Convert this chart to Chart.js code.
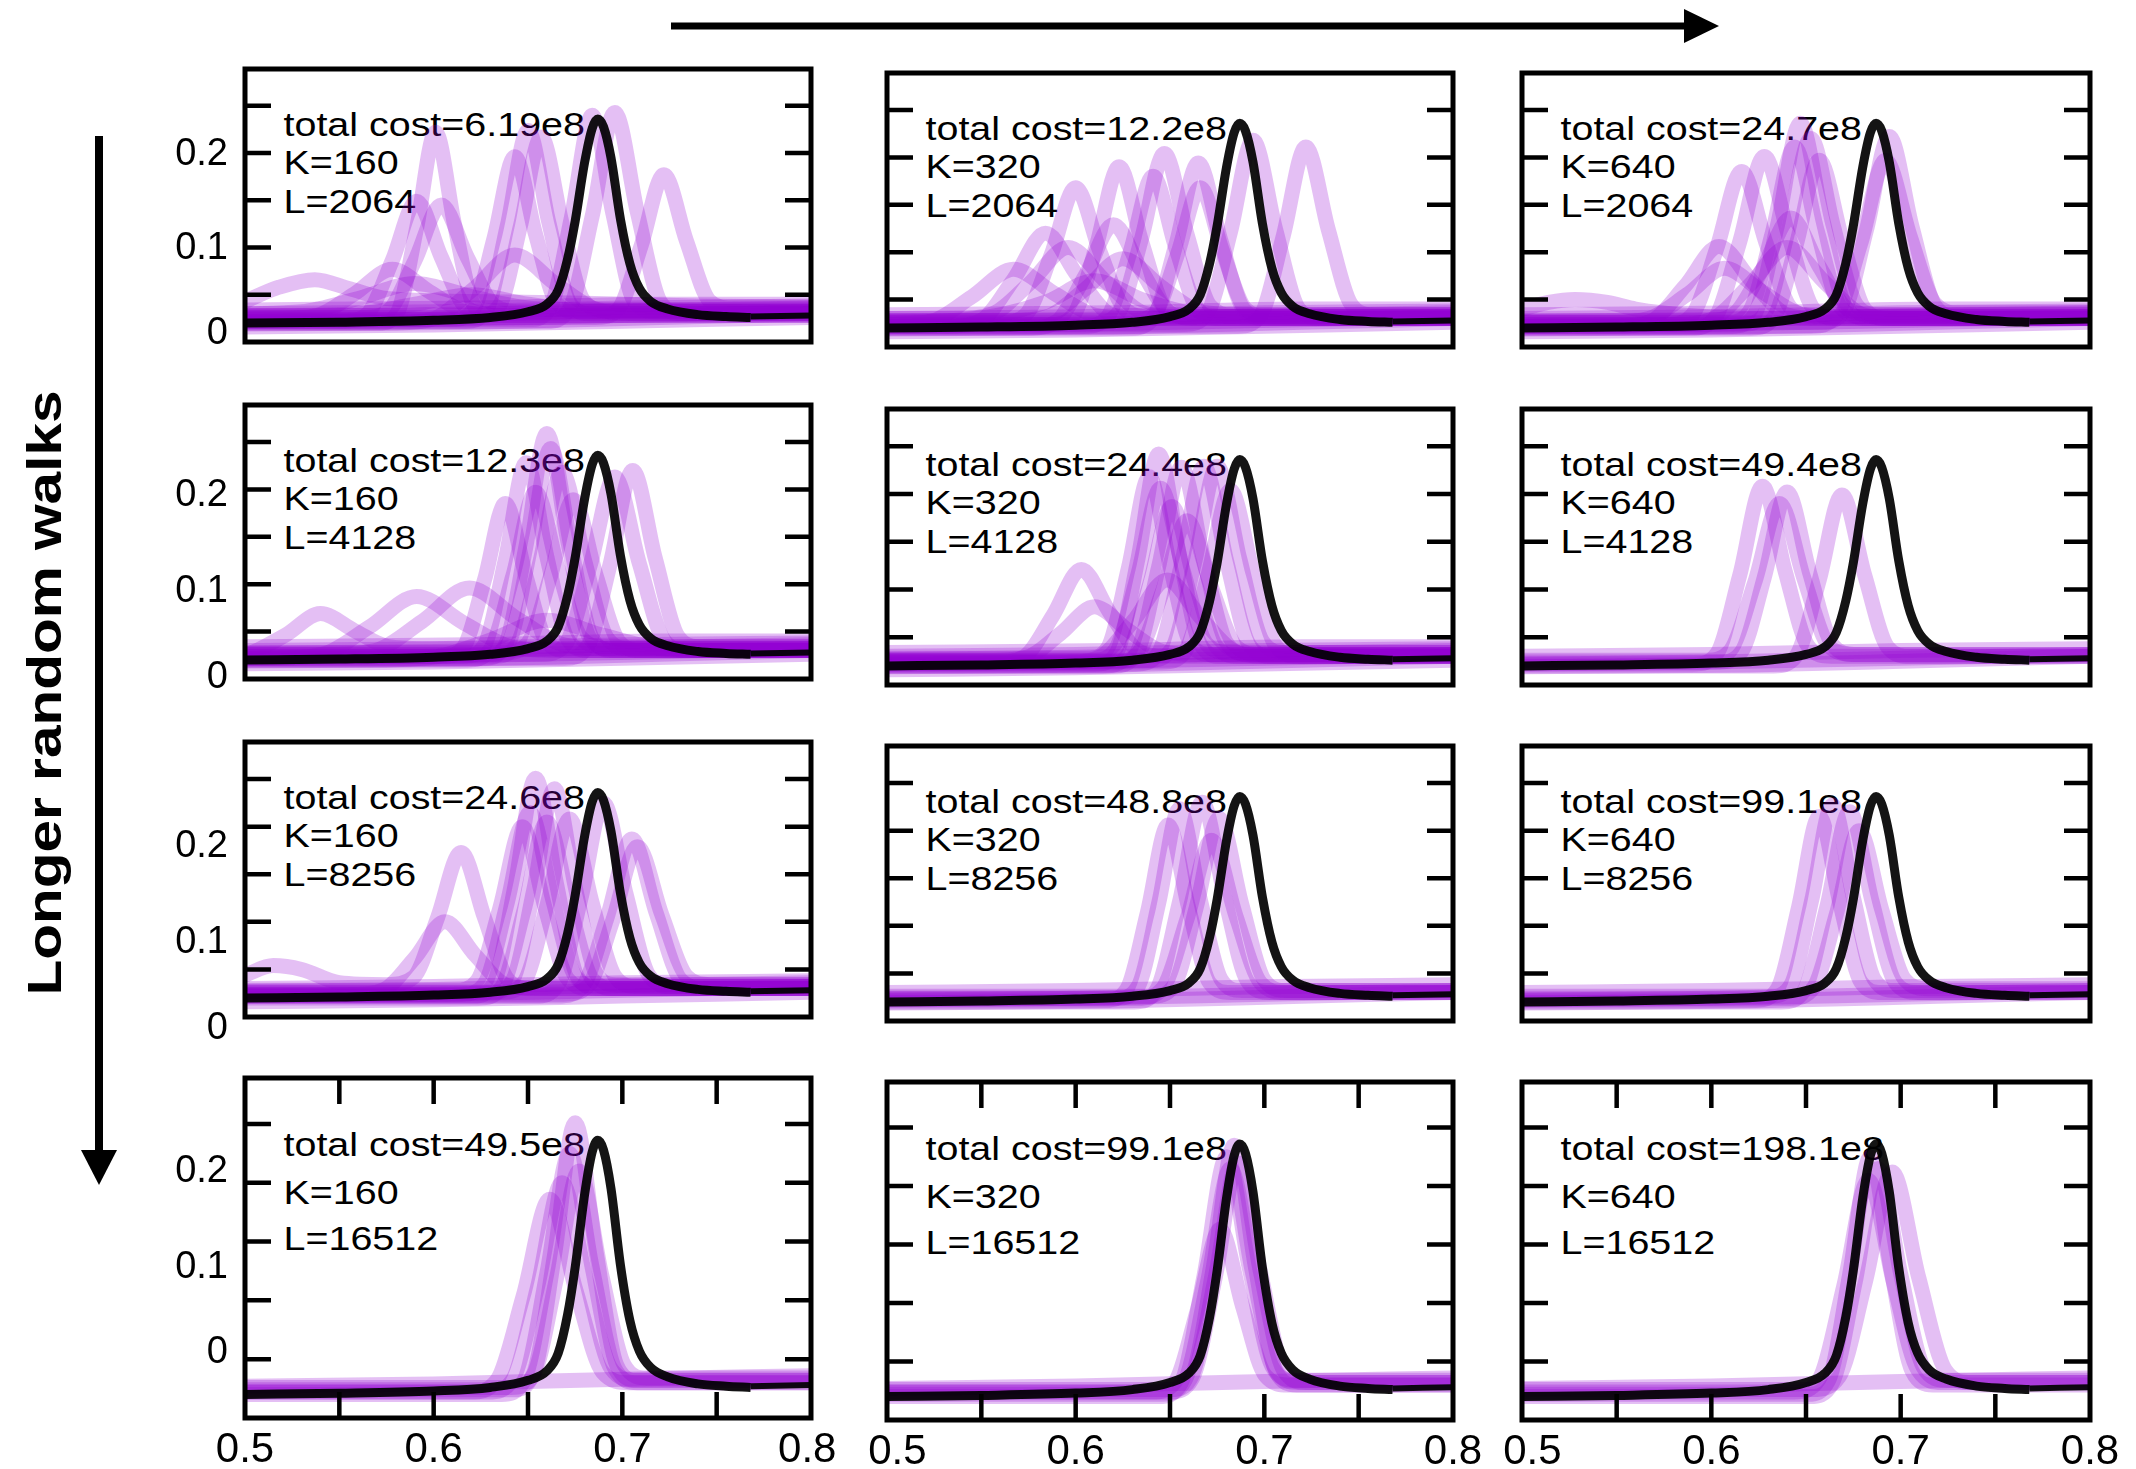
<!DOCTYPE html>
<html>
<head>
<meta charset="utf-8">
<script src="https://cdn.jsdelivr.net/npm/chart.js@4.4.1/dist/chart.umd.min.js"></script>
<style>
  body { margin: 0; background: #fff; }
  #page { position: relative; width: 2136px; height: 1469px; overflow: hidden; background: #fff; }
  #page canvas { position: absolute; }
  #overlay { position: absolute; left: 0; top: 0; }
</style>
</head>
<body>
<div id="page">
  <svg id="overlay" width="2136" height="1469" xmlns="http://www.w3.org/2000/svg"></svg>
</div>
<script>
// ---- data ----
const costs = [["6.19e8", "12.2e8", "24.7e8"], ["12.3e8", "24.4e8", "49.4e8"],
               ["24.6e8", "48.8e8", "99.1e8"], ["49.5e8", "99.1e8", "198.1e8"]];
const kValues = [160, 320, 640];
const lValues = [2064, 4128, 8256, 16512];

const yTickValues = [0.05, 0.1, 0.15, 0.2, 0.25];
const xTickValues = [0.55, 0.6, 0.65, 0.7, 0.75];
const yLabelText = ["0", "0.1", "0.2"];
const yLabelAt = [[0.0095, 0.0987, 0.199], [0.0017, 0.0922, 0.194], [-0.0116, 0.0786, 0.1788], [0.0553, 0.1275, 0.2094]];
const xLabelText = ["0.5", "0.6", "0.7", "0.8"];
const xLabelAt = [[0.5, 0.6, 0.7, 0.798], [0.5055, 0.6, 0.7, 0.8], [0.5055, 0.6, 0.7, 0.8]];

// reference spectrum (black)
const blackCurve = [[.5,.020],[.55,.021],[.60,.023],[.63,.026],[.65,.032],[.66,.040],[.666,.055],[.671,.088],[.675,.128],
  [.680,.190],[.684,.226],[.687,.236],[.690,.228],[.694,.195],[.699,.130],[.704,.083],[.709,.057],[.715,.043],
  [.724,.035],[.74,.029],[.755,.027],[.768,.026]];
const blackTail = [[.768,.027],[.8,.028]];

// nearly flat spectra that make up the dense band along the bottom
const flatA = [[.5,.030],[.6,.032],[.7,.036],[.8,.038]];
const flatB = [[.5,.016],[.6,.018],[.7,.022],[.8,.026]];
const flatC = [[.5,.034],[.62,.036],[.72,.040],[.8,.040]];
const flatD = [[.5,.022],[.6,.024],[.7,.028],[.8,.032]];
const flatE = [[.5,.027],[.6,.029],[.7,.033],[.8,.036]];
const flatF = [[.5,.019],[.62,.021],[.72,.026],[.8,.030]];

// estimated spectra, one list per panel
const p11 = [
  [[.5,.043],[.518,.058],[.537,.066],[.556,.056],[.575,.046],[.62,.043],[.68,.041],[.74,.038],[.8,.037]],
  [[.5,.025],[.518,.025],[.538,.028],[.558,.051],[.578,.077],[.598,.053],[.618,.031],[.638,.028],[.8,.028]],
  [[.5,.022],[.552,.022],[.565,.030],[.578,.086],[.591,.149],[.604,.090],[.617,.037],[.630,.030],[.8,.030]],
  [[.5,.026],[.562,.026],[.576,.033],[.590,.086],[.604,.145],[.618,.089],[.632,.039],[.646,.032],[.8,.032]],
  [[.5,.020],[.571,.020],[.581,.032],[.591,.121],[.601,.222],[.611,.125],[.621,.040],[.631,.028],[.8,.028]],
  [[.5,.024],[.610,.024],[.621,.034],[.632,.110],[.643,.196],[.654,.114],[.665,.042],[.676,.032],[.8,.032]],
  [[.5,.022],[.617,.022],[.628,.034],[.639,.123],[.650,.224],[.661,.127],[.672,.042],[.683,.030],[.8,.030]],
  [[.5,.028],[.624,.028],[.635,.039],[.646,.123],[.657,.217],[.668,.126],[.679,.045],[.690,.034],[.8,.034]],
  [[.5,.020],[.577,.020],[.599,.024],[.621,.056],[.643,.092],[.665,.061],[.687,.034],[.709,.030],[.8,.030]],
  [[.5,.024],[.651,.024],[.662,.037],[.673,.132],[.684,.240],[.695,.136],[.706,.044],[.717,.032],[.8,.032]],
  [[.5,.022],[.660,.022],[.672,.035],[.684,.133],[.696,.243],[.708,.137],[.720,.043],[.732,.030],[.8,.030]],
  [[.5,.026],[.686,.026],[.698,.035],[.710,.102],[.722,.177],[.734,.107],[.746,.044],[.758,.036],[.8,.036]],
  [[.5,.030],[.53,.032],[.56,.046],[.59,.062],[.62,.048],[.65,.036],[.68,.034],[.8,.034]],
  [[.5,.028],[.56,.030],[.59,.040],[.62,.050],[.65,.040],[.68,.033],[.8,.032]],
  flatA, flatB, flatC, flatD, flatE, flatF
];
const p12 = [
  [[.5,.024],[.523,.027],[.545,.053],[.567,.082],[.589,.056],[.611,.033],[.633,.030],[.8,.030]],
  [[.5,.022],[.533,.022],[.550,.028],[.567,.071],[.584,.120],[.601,.075],[.618,.035],[.635,.030],[.8,.030]],
  [[.5,.026],[.561,.026],[.574,.035],[.587,.097],[.600,.168],[.613,.100],[.626,.040],[.639,.032],[.8,.032]],
  [[.5,.020],[.575,.020],[.590,.027],[.605,.075],[.620,.129],[.635,.080],[.650,.036],[.665,.030],[.8,.030]],
  [[.5,.024],[.587,.024],[.599,.034],[.611,.107],[.623,.190],[.635,.111],[.647,.042],[.659,.032],[.8,.032]],
  [[.5,.028],[.565,.028],[.585,.032],[.605,.061],[.625,.093],[.645,.064],[.665,.038],[.685,.034],[.8,.034]],
  [[.5,.022],[.605,.022],[.617,.032],[.629,.101],[.641,.180],[.653,.105],[.665,.039],[.677,.030],[.8,.030]],
  [[.5,.026],[.611,.026],[.623,.037],[.635,.115],[.647,.204],[.659,.119],[.671,.044],[.683,.034],[.8,.034]],
  [[.5,.020],[.629,.020],[.641,.030],[.653,.107],[.665,.194],[.677,.112],[.689,.040],[.701,.030],[.8,.030]],
  [[.5,.028],[.630,.028],[.642,.036],[.654,.098],[.666,.168],[.678,.100],[.690,.040],[.702,.032],[.8,.032]],
  [[.5,.024],[.658,.024],[.670,.036],[.682,.121],[.694,.218],[.706,.124],[.718,.041],[.730,.030],[.8,.030]],
  [[.5,.022],[.686,.022],[.698,.033],[.710,.117],[.722,.211],[.734,.123],[.746,.045],[.758,.034],[.8,.034]],
  [[.5,.030],[.536,.030],[.556,.035],[.576,.068],[.596,.105],[.616,.069],[.636,.036],[.656,.032],[.8,.032]],
  [[.5,.026],[.535,.028],[.56,.034],[.585,.048],[.61,.070],[.635,.050],[.66,.036],[.69,.032],[.8,.032]],
  flatA, flatB, flatC, flatD, flatE, flatF
];
const p13 = [
  [[.5,.040],[.514,.047],[.528,.050],[.545,.047],[.56,.040],[.59,.033],[.63,.030],[.8,.030]],
  [[.5,.022],[.550,.022],[.568,.027],[.586,.064],[.604,.106],[.622,.068],[.640,.034],[.658,.030],[.8,.030]],
  [[.5,.026],[.547,.026],[.567,.030],[.587,.055],[.607,.083],[.627,.058],[.647,.035],[.667,.032],[.8,.032]],
  [[.5,.024],[.577,.024],[.590,.034],[.603,.105],[.616,.185],[.629,.109],[.642,.041],[.655,.032],[.8,.032]],
  [[.5,.020],[.589,.020],[.602,.031],[.615,.111],[.628,.201],[.641,.116],[.654,.040],[.667,.030],[.8,.030]],
  [[.5,.028],[.597,.028],[.612,.035],[.627,.082],[.642,.136],[.657,.085],[.672,.040],[.687,.034],[.8,.034]],
  [[.5,.022],[.611,.022],[.623,.035],[.635,.129],[.647,.236],[.659,.133],[.671,.042],[.683,.030],[.8,.030]],
  [[.5,.026],[.608,.026],[.620,.037],[.632,.119],[.644,.211],[.656,.122],[.668,.043],[.680,.032],[.8,.032]],
  [[.5,.024],[.6165,.024],[.6285,.036],[.6405,.122],[.6525,.220],[.6645,.127],[.6765,.045],[.6885,.034],[.8,.034]],
  [[.5,.020],[.621,.020],[.633,.031],[.645,.109],[.657,.197],[.669,.114],[.681,.040],[.693,.030],[.8,.030]],
  [[.5,.026],[.658,.026],[.670,.038],[.682,.124],[.694,.222],[.706,.127],[.718,.044],[.730,.032],[.8,.032]],
  [[.5,.022],[.653,.022],[.666,.033],[.679,.110],[.692,.197],[.705,.117],[.718,.046],[.731,.036],[.8,.036]],
  [[.5,.024],[.58,.024],[.60,.029],[.62,.065],[.64,.105],[.66,.068],[.68,.034],[.70,.030],[.8,.030]],
  flatA, flatB, flatC, flatD, flatE, flatF
];
const p21 = [
  [[.5,.025],[.504,.028],[.522,.047],[.540,.069],[.558,.051],[.576,.034],[.594,.032],[.8,.032]],
  [[.5,.022],[.516,.022],[.541,.026],[.566,.055],[.591,.087],[.616,.059],[.641,.034],[.666,.030],[.8,.030]],
  [[.5,.026],[.544,.026],[.569,.030],[.594,.061],[.619,.096],[.644,.064],[.669,.036],[.694,.032],[.8,.032]],
  [[.5,.024],[.605,.024],[.616,.034],[.627,.105],[.638,.185],[.649,.108],[.660,.039],[.671,.030],[.8,.030]],
  [[.5,.022],[.627,.022],[.638,.036],[.649,.141],[.660,.259],[.671,.146],[.682,.046],[.693,.032],[.8,.032]],
  [[.5,.026],[.629,.026],[.640,.039],[.651,.135],[.662,.243],[.673,.137],[.684,.043],[.695,.030],[.8,.030]],
  [[.5,.020],[.618,.020],[.630,.031],[.642,.109],[.654,.197],[.666,.116],[.678,.044],[.690,.034],[.8,.034]],
  [[.5,.024],[.632,.024],[.644,.036],[.656,.121],[.668,.218],[.680,.125],[.692,.043],[.704,.032],[.8,.032]],
  [[.5,.028],[.638,.028],[.650,.038],[.662,.109],[.674,.189],[.686,.110],[.698,.040],[.710,.030],[.8,.030]],
  [[.5,.022],[.6695,.022],[.6815,.034],[.6935,.121],[.7055,.220],[.7175,.127],[.7295,.045],[.7415,.034],[.8,.034]],
  [[.5,.026],[.657,.026],[.670,.037],[.683,.120],[.696,.213],[.709,.122],[.722,.041],[.735,.030],[.8,.030]],
  [[.5,.020],[.57,.020],[.60,.023],[.63,.041],[.66,.062],[.69,.046],[.72,.032],[.75,.030],[.8,.030]],
  [[.5,.024],[.616,.024],[.627,.036],[.638,.126],[.649,.228],[.660,.129],[.671,.042],[.682,.030],[.8,.030]],
  flatA, flatB, flatC, flatD, flatE, flatF
];
const p22 = [
  [[.5,.024],[.558,.024],[.573,.030],[.588,.073],[.603,.121],[.618,.076],[.633,.036],[.648,.030],[.8,.030]],
  [[.5,.026],[.556,.026],[.574,.029],[.592,.054],[.610,.082],[.628,.057],[.646,.035],[.664,.032],[.8,.032]],
  [[.5,.022],[.611,.022],[.622,.035],[.633,.132],[.644,.242],[.655,.136],[.666,.043],[.677,.030],[.8,.030]],
  [[.5,.026],[.609,.026],[.621,.037],[.633,.116],[.645,.206],[.657,.120],[.669,.044],[.681,.034],[.8,.034]],
  [[.5,.020],[.615,.020],[.627,.030],[.639,.104],[.651,.187],[.663,.109],[.675,.039],[.687,.030],[.8,.030]],
  [[.5,.024],[.620,.024],[.633,.033],[.646,.098],[.659,.172],[.672,.102],[.685,.040],[.698,.032],[.8,.032]],
  [[.5,.022],[.632,.022],[.644,.034],[.656,.126],[.668,.229],[.680,.130],[.692,.042],[.704,.030],[.8,.030]],
  [[.5,.026],[.639,.026],[.651,.038],[.663,.128],[.675,.229],[.687,.132],[.699,.046],[.711,.034],[.8,.034]],
  [[.5,.024],[.5945,.024],[.6125,.029],[.6305,.067],[.6485,.110],[.6665,.070],[.6845,.035],[.7025,.030],[.8,.030]],
  [[.5,.028],[.606,.028],[.617,.039],[.628,.123],[.639,.218],[.650,.125],[.661,.043],[.672,.032],[.8,.032]],
  [[.5,.020],[.620,.020],[.632,.032],[.644,.124],[.656,.228],[.668,.130],[.680,.044],[.692,.032],[.8,.032]],
  [[.5,.024],[.646,.024],[.658,.035],[.670,.114],[.682,.204],[.694,.117],[.706,.041],[.718,.030],[.8,.030]],
  flatA, flatB, flatC, flatD, flatE, flatF
];
const p23 = [
  [[.5,.022],[.591,.022],[.603,.033],[.615,.115],[.627,.208],[.639,.119],[.651,.041],[.663,.030],[.8,.030]],
  [[.5,.024],[.604,.024],[.616,.035],[.628,.113],[.640,.202],[.652,.117],[.664,.042],[.676,.032],[.8,.032]],
  [[.5,.020],[.633,.020],[.645,.031],[.657,.110],[.669,.199],[.681,.115],[.693,.040],[.705,.030],[.8,.030]],
  [[.5,.026],[.597,.026],[.610,.036],[.623,.108],[.636,.190],[.649,.111],[.662,.041],[.675,.032],[.8,.032]],
  flatA, flatD, flatF
];
const p31 = [
  [[.5,.044],[.515,.054],[.53,.050],[.55,.036],[.575,.034],[.5895,.042],[.602,.104],[.6145,.173],[.627,.104],[.639,.040],[.651,.030],[.8,.030]],
  [[.5,.024],[.558,.024],[.574,.029],[.590,.062],[.606,.100],[.622,.065],[.638,.034],[.654,.030],[.8,.030]],
  [[.5,.022],[.621,.022],[.632,.036],[.643,.137],[.654,.251],[.665,.141],[.676,.043],[.687,.030],[.8,.030]],
  [[.5,.026],[.631,.026],[.642,.039],[.653,.133],[.664,.240],[.675,.137],[.686,.046],[.697,.034],[.8,.034]],
  [[.5,.024],[.615,.024],[.627,.035],[.639,.120],[.651,.215],[.663,.124],[.675,.043],[.687,.032],[.8,.032]],
  [[.5,.020],[.624,.020],[.636,.031],[.648,.113],[.660,.205],[.672,.118],[.684,.040],[.696,.030],[.8,.030]],
  [[.5,.026],[.636,.026],[.648,.037],[.660,.117],[.672,.208],[.684,.120],[.696,.043],[.708,.032],[.8,.032]],
  [[.5,.022],[.666,.022],[.679,.032],[.692,.105],[.705,.187],[.718,.109],[.731,.039],[.744,.030],[.8,.030]],
  [[.5,.024],[.669,.024],[.682,.033],[.695,.102],[.708,.179],[.721,.107],[.734,.043],[.747,.034],[.8,.034]],
  [[.5,.028],[.611,.028],[.623,.038],[.635,.114],[.647,.200],[.659,.115],[.671,.040],[.683,.030],[.8,.030]],
  [[.5,.022],[.654,.022],[.666,.034],[.678,.124],[.690,.225],[.702,.129],[.714,.044],[.726,.032],[.8,.032]],
  flatA, flatB, flatD, flatE
];
const p32 = [
  [[.5,.022],[.616,.022],[.627,.033],[.638,.114],[.649,.206],[.660,.118],[.671,.040],[.682,.030],[.8,.030]],
  [[.5,.024],[.622,.024],[.633,.036],[.644,.124],[.655,.223],[.666,.128],[.677,.044],[.688,.032],[.8,.032]],
  [[.5,.020],[.631,.020],[.643,.033],[.655,.125],[.667,.230],[.679,.130],[.691,.042],[.703,.030],[.8,.030]],
  [[.5,.026],[.640,.026],[.652,.037],[.664,.120],[.676,.213],[.688,.123],[.700,.043],[.712,.032],[.8,.032]],
  [[.5,.024],[.633,.024],[.646,.034],[.659,.107],[.672,.190],[.685,.110],[.698,.040],[.711,.030],[.8,.030]],
  flatA, flatD, flatF
];
const p33 = [
  [[.5,.022],[.624,.022],[.635,.034],[.646,.119],[.657,.215],[.668,.123],[.679,.041],[.690,.030],[.8,.030]],
  [[.5,.026],[.631,.026],[.642,.038],[.653,.127],[.664,.227],[.675,.130],[.686,.044],[.697,.032],[.8,.032]],
  [[.5,.020],[.637,.020],[.649,.032],[.661,.120],[.673,.220],[.685,.125],[.697,.041],[.709,.030],[.8,.030]],
  [[.5,.024],[.642,.024],[.654,.035],[.666,.112],[.678,.200],[.690,.117],[.702,.044],[.714,.034],[.8,.034]],
  flatA, flatD, flatF
];
const p41 = [
  [[.5,.022],[.6195,.022],[.6335,.032],[.6475,.104],[.6615,.186],[.6755,.108],[.6895,.039],[.7035,.030],[.8,.030]],
  [[.5,.024],[.642,.024],[.653,.038],[.664,.138],[.675,.251],[.686,.142],[.697,.045],[.708,.032],[.8,.032]],
  [[.5,.020],[.636,.020],[.648,.032],[.660,.123],[.672,.225],[.684,.128],[.696,.042],[.708,.030],[.8,.030]],
  [[.5,.026],[.641,.026],[.653,.037],[.665,.118],[.677,.210],[.689,.122],[.701,.045],[.713,.034],[.8,.034]],
  [[.5,.022],[.629,.022],[.642,.033],[.655,.111],[.668,.200],[.681,.116],[.694,.042],[.707,.032],[.8,.032]],
  flatE
];
const p42 = [
  [[.5,.024],[.6405,.024],[.6525,.032],[.6645,.094],[.6765,.163],[.6885,.097],[.7005,.038],[.7125,.030],[.8,.030]],
  [[.5,.022],[.646,.022],[.658,.034],[.670,.119],[.682,.215],[.694,.124],[.706,.043],[.718,.032],[.8,.032]],
  [[.5,.026],[.651,.026],[.662,.039],[.673,.131],[.684,.235],[.695,.133],[.706,.042],[.717,.030],[.8,.030]],
  [[.5,.020],[.644,.020],[.656,.032],[.668,.123],[.680,.225],[.692,.130],[.704,.046],[.716,.034],[.8,.034]],
  [[.5,.024],[.650,.024],[.662,.036],[.674,.122],[.686,.220],[.698,.126],[.710,.043],[.722,.032],[.8,.032]],
  flatE
];
const p43 = [
  [[.5,.022],[.651,.022],[.662,.034],[.673,.124],[.684,.225],[.695,.128],[.706,.042],[.717,.030],[.8,.030]],
  [[.5,.026],[.6535,.026],[.6675,.037],[.6815,.119],[.6955,.212],[.7095,.122],[.7235,.043],[.7375,.032],[.8,.032]],
  [[.5,.024],[.644,.024],[.657,.035],[.670,.115],[.683,.205],[.696,.119],[.709,.043],[.722,.032],[.8,.032]],
  [[.5,.020],[.652,.020],[.664,.032],[.676,.118],[.688,.215],[.700,.125],[.712,.045],[.724,.034],[.8,.034]],
  flatE
];
const panelCurves = [[p11, p12, p13], [p21, p22, p23], [p31, p32, p33], [p41, p42, p43]];

// ---- layout ----
const colLeft = [245, 887, 1522];
const colRight = [811, 1453, 2090];
const rowTop = [[69, 73, 73], [405, 409, 409], [742, 746, 746], [1078, 1082, 1082]];
const rowBottom = [[342, 347, 347], [679, 685, 685], [1017, 1021, 1021], [1418, 1420, 1420]];
const PAD = 45, Y_AXIS_W = 90, X_AXIS_H = 60, TICK_LEN = 26;
const PURPLE = "rgba(148,0,211,0.25)";
const BLACK = "rgba(0,0,0,0.92)";
const FONT = "Liberation Sans, Arial, Helvetica, sans-serif";

Chart.defaults.font.family = FONT;

const framePlugin = {
  id: "frame",
  afterDatasetsDraw(chart, args, opts) {
    const { ctx, chartArea: a, scales } = chart;
    ctx.save();
    ctx.strokeStyle = "#000";
    ctx.lineCap = "butt";
    ctx.lineWidth = 4.5;
    ctx.beginPath();
    yTickValues.forEach(v => {
      const py = scales.y.getPixelForValue(v);
      ctx.moveTo(a.left, py); ctx.lineTo(a.left + TICK_LEN, py);
      ctx.moveTo(a.right, py); ctx.lineTo(a.right - TICK_LEN, py);
    });
    if (opts.xTicks) {
      xTickValues.forEach(v => {
        const px = scales.x.getPixelForValue(v);
        ctx.moveTo(px, a.top); ctx.lineTo(px, a.top + TICK_LEN);
        ctx.moveTo(px, a.bottom); ctx.lineTo(px, a.bottom - TICK_LEN);
      });
    }
    ctx.stroke();
    ctx.lineWidth = 5;
    ctx.strokeRect(a.left, a.top, a.right - a.left, a.bottom - a.top);
    ctx.restore();
  }
};

const page = document.getElementById("page");

function makePanel(r, c) {
  const L = colLeft[c], R = colRight[c], T = rowTop[r][c], B = rowBottom[r][c];
  const leftAxis = c === 0, bottomAxis = r === 3;
  const extraL = leftAxis ? Y_AXIS_W : 0, extraB = bottomAxis ? X_AXIS_H : 0;
  const cv = document.createElement("canvas");
  const w = R - L + 2 * PAD + extraL, h = B - T + 2 * PAD + extraB;
  cv.width = w; cv.height = h;
  cv.style.left = (L - PAD - extraL) + "px";
  cv.style.top = (T - PAD) + "px";
  cv.style.width = w + "px"; cv.style.height = h + "px";
  page.appendChild(cv);

  const datasets = [
    { data: blackCurve, borderColor: BLACK, borderWidth: 9 },
    { data: blackTail, borderColor: BLACK, borderWidth: 6 }
  ];
  panelCurves[r][c].forEach(pts => datasets.push({ data: pts, borderColor: PURPLE, borderWidth: 15 }));

  new Chart(cv, {
    type: "line",
    data: { datasets },
    options: {
      responsive: false,
      animation: false,
      devicePixelRatio: 1,
      events: [],
      layout: { padding: PAD },
      datasets: { line: { clip: 2, pointRadius: 0, cubicInterpolationMode: "monotone", borderJoinStyle: "round" } },
      plugins: { legend: { display: false }, tooltip: { enabled: false }, frame: { xTicks: bottomAxis } },
      scales: {
        x: {
          type: "linear", min: 0.5, max: 0.8, display: bottomAxis,
          grid: { display: false, drawTicks: false }, border: { display: false },
          afterBuildTicks: s => { s.ticks = xLabelAt[c].map(v => ({ value: v })); },
          afterFit: s => { if (bottomAxis) s.height = X_AXIS_H; },
          ticks: { color: "#000", font: { size: 42 }, padding: 7, maxRotation: 0, autoSkip: false,
                   callback: (v, i) => xLabelText[i] }
        },
        y: {
          type: "linear", min: 0, max: 0.289, display: leftAxis,
          grid: { display: false, drawTicks: false }, border: { display: false },
          afterBuildTicks: s => { s.ticks = yLabelAt[r].map(v => ({ value: v })); },
          afterFit: s => { if (leftAxis) s.width = Y_AXIS_W; },
          ticks: { color: "#000", font: { size: 38 }, padding: 17, autoSkip: false,
                   callback: (v, i) => yLabelText[i] }
        }
      }
    },
    plugins: [framePlugin]
  });
}

// ---- text and arrows (drawn under the curves) ----
const svg = document.getElementById("overlay");
const NS = "http://www.w3.org/2000/svg";
function svgEl(tag, attrs, text) {
  const e = document.createElementNS(NS, tag);
  for (const k in attrs) e.setAttribute(k, attrs[k]);
  if (text !== undefined) e.textContent = text;
  svg.appendChild(e);
  return e;
}

for (let r = 0; r < 4; r++) {
  for (let c = 0; c < 3; c++) {
    const L = colLeft[c], T = rowTop[r][c];
    const lines = ["total cost=" + costs[r][c], "K=" + kValues[c], "L=" + lValues[r]];
    const base = r === 3 ? [78, 125.5, 172] : [66.5, 105, 143.5];
    lines.forEach((s, i) => {
      svgEl("text", { transform: `translate(${L + 38.5},${T + base[i]}) scale(1.16,1)`,
        "font-family": FONT, "font-size": 34, fill: "#000" }, s);
    });
  }
}

svgEl("text", { transform: "translate(61,693) rotate(-90) scale(1.22,1)", "text-anchor": "middle",
  "font-family": FONT, "font-size": 48, "font-weight": "bold", fill: "#000" }, "Longer random walks");
svgEl("line", { x1: 671, y1: 26, x2: 1690, y2: 26, stroke: "#000", "stroke-width": 7 });
svgEl("polygon", { points: "1684,9 1719,26 1684,43", fill: "#000" });
svgEl("line", { x1: 99, y1: 136, x2: 99, y2: 1155, stroke: "#000", "stroke-width": 8 });
svgEl("polygon", { points: "81,1150 99,1185 117,1150", fill: "#000" });

for (let r = 0; r < 4; r++) for (let c = 0; c < 3; c++) makePanel(r, c);
</script>
</body>
</html>
